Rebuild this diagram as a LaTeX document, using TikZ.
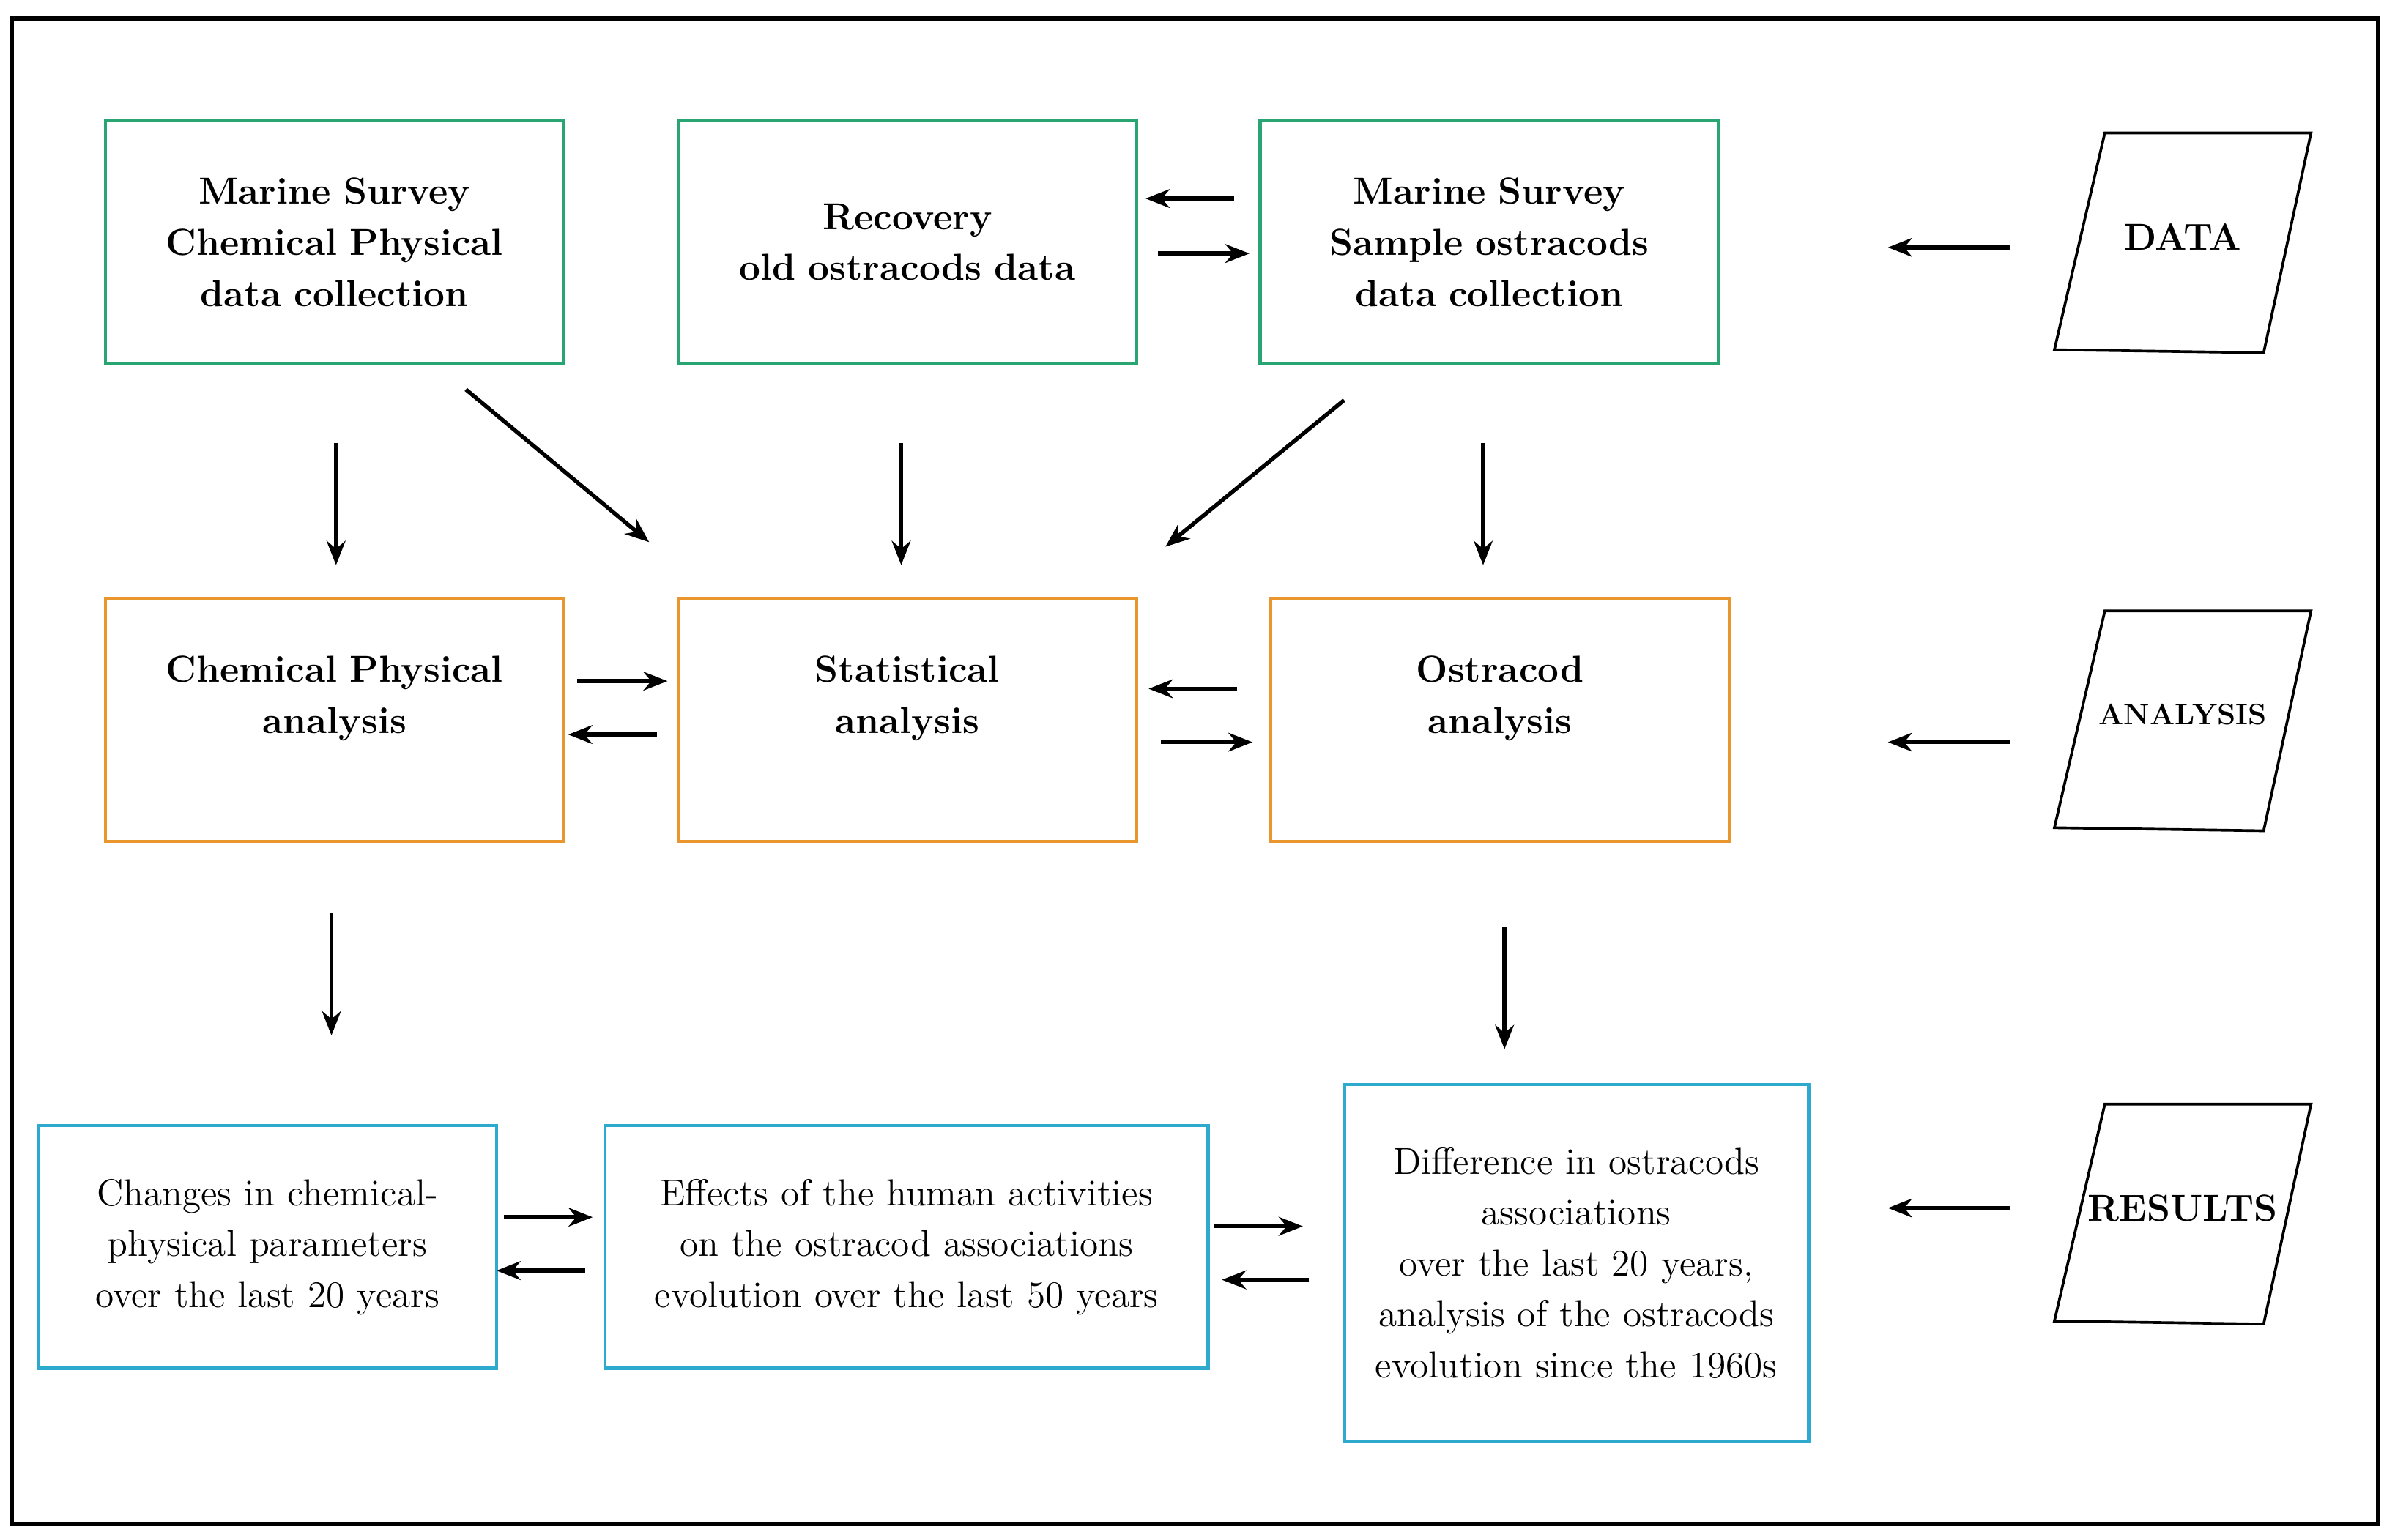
\documentclass[tikz,border=0pt]{standalone}
\usetikzlibrary{arrows.meta}
\definecolor{datagreen}{RGB}{40,165,115}
\definecolor{anaorange}{RGB}{232,150,45}
\definecolor{rescyan}{RGB}{45,170,205}
\tikzset{
  box/.style={draw, line width=1.2pt, minimum width=6cm, minimum height=3.18cm, align=center, anchor=north west, inner sep=4pt},
  flow/.style={-{Stealth[length=9pt,width=7pt]}, line width=1.5pt},
  para/.style={draw, line width=1pt}
}
\begin{document}
\begin{tikzpicture}[x=0.02cm, y=-0.02cm, font=\fontsize{14}{19}\selectfont]
            \useasboundingbox (0,0) rectangle (1568,1008);
            \draw[line width=1.5pt] (8,12) rectangle (1557,998);

            % data row
            \node[box, draw=datagreen, text width=5.6cm] (survey) at (68,78) {\textbf{Marine Survey}\\\textbf{Chemical Physical}\\\textbf{data collection}\\[2pt]};
            \node[box, draw=datagreen, text width=5.6cm] (recovery) at (443,78) {\textbf{Recovery}\\\textbf{old ostracods data}\\[2pt]};
            \node[box, draw=datagreen, text width=5.6cm] (sample) at (824,78) {\textbf{Marine Survey}\\\textbf{Sample ostracods}\\\textbf{data collection}\\[2pt]};

            % analysis row
            \node[box, draw=anaorange, text width=5.6cm] (chem) at (68,391) {\textbf{Chemical Physical}\\\textbf{analysis}\\\mbox{}};
            \node[box, draw=anaorange, text width=5.6cm] (stat) at (443,391) {\textbf{Statistical}\\\textbf{analysis}\\\mbox{}};
            \node[box, draw=anaorange, text width=5.6cm] (ostra) at (831,391) {\textbf{Ostracod}\\\textbf{analysis}\\\mbox{}};

            % results row
            \node[box, draw=rescyan, text width=5.6cm] (changes) at (24,736) {Changes in chemical-\\physical parameters\\over the last 20 years};
            \node[box, draw=rescyan, minimum width=7.9cm, text width=7.6cm] (effects) at (395,736) {Effects of the human activities\\on the ostracod associations\\evolution over the last 50 years};
            \node[box, draw=rescyan, minimum height=4.68cm, text width=5.8cm] (diff) at (879,709) {Difference in ostracods\\associations\\over the last 20 years,\\analysis of the ostracods\\evolution since the 1960s};

            % side labels
            \foreach \y/\t/\n/\h in {87/{\textbf{DATA}}/data/75, 400/{\fontsize{11}{13}\selectfont\textbf{ANALYSIS}}/ana/86, 723/{\textbf{RESULTS}}/res/68} {
                \draw[para] (1378,\y) -- (1513,\y) -- (1482,\y+144) -- (1345,\y+142) -- cycle;
                \node (\n) at (1429,\y+68) {\t};
                \draw[flow] (1316,\y+\h) -- (1236,\y+\h);
            }

            % connectors
            \foreach \a/\b/\c/\d in {220/290/220/370, 305/255/425/355, 590/290/590/370, 880/262/763/358, 971/290/971/370,
                                     808/130/750/130, 758/166/818/166,
                                     378/446/437/446, 430/481/372/481, 810/451/752/451, 760/486/820/486,
                                     217/598/217/678, 985/607/985/687,
                                     330/797/388/797, 383/832/325/832, 795/803/853/803, 857/838/800/838} {
                \draw[flow] (\a,\b) -- (\c,\d);
            }
        \end{tikzpicture}
\end{document}
